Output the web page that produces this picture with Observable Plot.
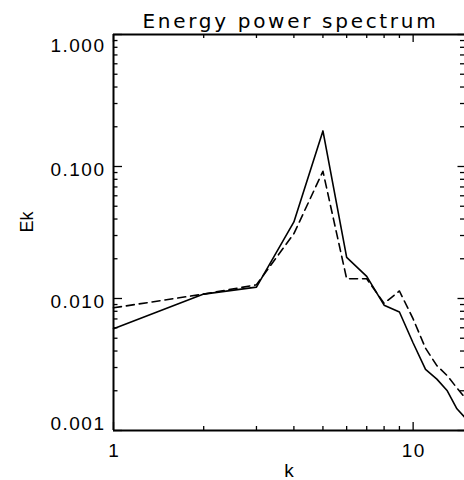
<!DOCTYPE html>
<html><head><meta charset="utf-8">
<script src="https://cdn.jsdelivr.net/npm/d3@7"></script>
<script src="https://cdn.jsdelivr.net/npm/@observablehq/plot@0.6"></script>
<style>
body{margin:0;background:#fff;overflow:hidden}
</style>
</head><body><div id="chart"></div>
<script>
const title = "Energy power spectrum";
const xLabel = "k";
const yLabel = "Ek";
const k = [1,2,3,4,5,6,7,8,9,10,11,12,13,14,15];
const ekSolid = [0.0059,0.0108,0.0122,0.038,0.186,0.0205,0.0147,0.0089,0.0079,0.0046,0.0029,0.00245,0.0020,0.00146,0.00123];
const ekDashed = [0.0085,0.0108,0.0127,0.031,0.092,0.0141,0.0141,0.0092,0.0114,0.0070,0.0042,0.0031,0.0026,0.0021,0.00174];
const xMajor = [1,10];
const xMajorLabels = ["1","10"];
const yMajor = [0.001,0.01,0.1,1];
const yMajorLabels = ["0.001","0.010","0.100","1.000"];
const minorMult = [2,3,4,5,6,7,8,9];

const xMinor = [];
for (const d of [1,10]) for (const m of minorMult) if (d*m < 15) xMinor.push(d*m);
const yMinor = [];
for (const d of [0.001,0.01,0.1]) for (const m of minorMult) yMinor.push(d*m);

const W = 464, H = 480, ML = 113, MT = 34, MB = 50, MR = 0;
const FW = W - ML - MR, FH = H - MT - MB;

const solid = k.map((x,i)=>({k:x, e:ekSolid[i]}));
const dashed = k.map((x,i)=>({k:x, e:ekDashed[i]}));
const tickFont = {fontSize: 19, fontFamily: "Liberation Sans, Arial, sans-serif", fill: "black", lineAnchor: "middle"};

const chart = Plot.plot({
  width: W, height: H,
  marginLeft: ML, marginRight: MR, marginTop: MT, marginBottom: MB,
  style: {background: "white", color: "black"},
  x: {type: "log", domain: [1, 15], range: [ML, 465.4], axis: null},
  y: {type: "log", domain: [0.001, 1], axis: null},
  marks: [
    Plot.line(solid, {x: "k", y: "e", stroke: "black", strokeWidth: 1.6}),
    Plot.line(dashed, {x: "k", y: "e", stroke: "black", strokeWidth: 1.6, strokeDasharray: "8,5"}),
    // frame
    Plot.ruleX([1], {stroke: "black", strokeWidth: 2}),
    Plot.ruleY([0.001, 1], {stroke: "black", strokeWidth: 2}),
    // bottom ticks
    Plot.tickX(xMinor, {x: d=>d, insetTop: FH - 4, stroke: "black", strokeWidth: 1.3}),
    Plot.tickX(xMajor, {x: d=>d, insetTop: FH - 8, stroke: "black", strokeWidth: 1.3}),
    // top ticks
    Plot.tickX(xMinor, {x: d=>d, insetBottom: FH - 4, stroke: "black", strokeWidth: 1.3}),
    Plot.tickX(xMajor, {x: d=>d, insetBottom: FH - 8, stroke: "black", strokeWidth: 1.3}),
    // left ticks
    Plot.tickY(yMinor, {y: d=>d, insetRight: FW - 4.5, stroke: "black", strokeWidth: 1.3}),
    Plot.tickY(yMajor, {y: d=>d, insetRight: FW - 9, stroke: "black", strokeWidth: 1.3}),
    // right ticks
    Plot.tickY(yMinor, {y: d=>d, insetLeft: FW - 4, stroke: "black", strokeWidth: 1.3}),
    Plot.tickY(yMajor, {y: d=>d, insetLeft: FW - 6.5, stroke: "black", strokeWidth: 1.3}),
    // y tick labels
    Plot.text([0], {y: i=>yMajor[i], text: i=>yMajorLabels[i], frameAnchor: "left", textAnchor: "end", dx: -8, dy: -6.5, ...tickFont}),
    Plot.text([1,2], {y: i=>yMajor[i], text: i=>yMajorLabels[i], frameAnchor: "left", textAnchor: "end", dx: -8, dy: 3.5, ...tickFont}),
    Plot.text([3], {y: i=>yMajor[i], text: i=>yMajorLabels[i], frameAnchor: "left", textAnchor: "end", dx: -8, dy: 11, ...tickFont}),
    // x tick labels
    Plot.text([0,1], {x: i=>xMajor[i], text: i=>xMajorLabels[i], frameAnchor: "bottom", dy: 20, dx: 0.7, ...tickFont}),
    // axis titles
    Plot.text([xLabel], {frameAnchor: "bottom", dy: 40, ...tickFont}),
    Plot.text([yLabel], {frameAnchor: "left", dx: -86, rotate: -90, ...tickFont, fontSize: 18}),
    // title
    Plot.text([title], {frameAnchor: "top", dy: -13, dx: 1.4, lineAnchor: "middle", fontSize: 20, fontFamily: "DejaVu Sans, sans-serif", fill: "black"})
  ]
});
const svg = d3.select(chart);
svg.selectAll("text").filter(function(){ return this.textContent === title; }).style("letter-spacing", "2.7px");
const tickLabelSet = new Set([...yMajorLabels, ...xMajorLabels]);
svg.selectAll("text").filter(function(){ return tickLabelSet.has(this.textContent); }).style("letter-spacing", "1.5px");
document.getElementById("chart").appendChild(chart);
</script>
</body></html>
